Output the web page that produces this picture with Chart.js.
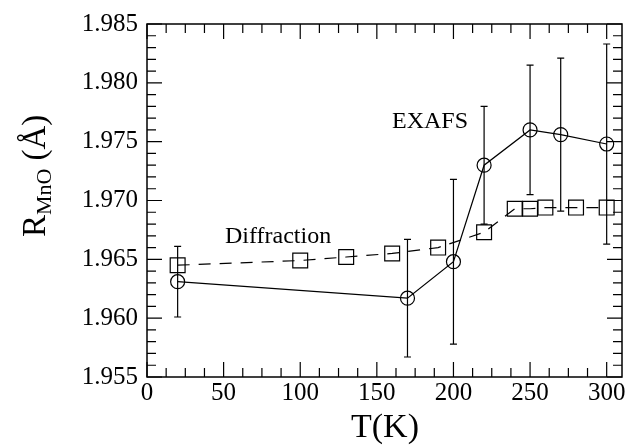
<!DOCTYPE html>
<html>
<head>
<meta charset="utf-8">
<script src="https://cdn.jsdelivr.net/npm/chart.js@4/dist/chart.umd.min.js"></script>
<style>
  html, body { margin: 0; padding: 0; background: #fff; }
  canvas { display: block; }
</style>
</head>
<body>
<canvas id="graph" width="640" height="445"></canvas>
<script>
// EXAFS data (circles, solid line, error bars)
var exafsT = [20, 170, 200, 220, 250, 270, 300];
var exafsR = [1.9631, 1.9617, 1.9648, 1.9730, 1.9760, 1.9756, 1.9748];
var exafsErr = [0.0030, 0.0050, 0.0070, 0.0050, 0.0055, 0.0065, 0.0085];
// Diffraction data (squares, dashed line)
var diffT = [20, 100, 130, 160, 190, 220, 240, 250, 260, 280, 300];
var diffR = [1.9645, 1.9649, 1.9652, 1.9655, 1.9660, 1.9673, 1.9693, 1.9693, 1.9694, 1.9694, 1.9694];
// Axis ticks
var xTicks = [0, 50, 100, 150, 200, 250, 300];
var yTicks = [1.955, 1.960, 1.965, 1.970, 1.975, 1.980, 1.985];

var serif = '"Liberation Serif", "DejaVu Serif", serif';

function toPoints(xs, ys) {
    var pts = [];
    xs.forEach(function (x, i) {
        pts.push({ x: x, y: ys[i] });
    });
    return pts;
}

// Frame, inward ticks on all sides, error bars and labels
var decor = {
    id: 'decor',
    beforeDatasetsDraw: function (chart) {
        var ctx = chart.ctx;
        var a = chart.chartArea;
        var xs = chart.scales.x;
        var ys = chart.scales.y;
        ctx.save();
        ctx.strokeStyle = '#000';
        ctx.lineWidth = 1.5;
        ctx.strokeRect(a.left, a.top, a.right - a.left, a.bottom - a.top);
        ctx.lineWidth = 1.2;
        ctx.beginPath();
        // x ticks every 12.5, major every 50
        for (var t = 0; t <= 310; t += 12.5) {
            var px = xs.getPixelForValue(t);
            if (px > a.right) break;
            var len = (t % 50 === 0) ? 15 : 9;
            ctx.moveTo(px, a.bottom); ctx.lineTo(px, a.bottom - len);
            ctx.moveTo(px, a.top); ctx.lineTo(px, a.top + len);
        }
        // y ticks every 0.001, major every 0.005
        for (var k = 0; k <= 30; k++) {
            var py = ys.getPixelForValue(1.955 + k * 0.001);
            var l2 = (k % 5 === 0) ? 15 : 9;
            ctx.moveTo(a.left, py); ctx.lineTo(a.left + l2, py);
            ctx.moveTo(a.right, py); ctx.lineTo(a.right - l2, py);
        }
        ctx.stroke();
        ctx.restore();
    },
    afterDatasetsDraw: function (chart) {
        var ctx = chart.ctx;
        var xs = chart.scales.x;
        var ys = chart.scales.y;
        ctx.save();
        ctx.strokeStyle = '#000';
        ctx.lineWidth = 1.2;
        ctx.beginPath();
        exafsT.forEach(function (t, i) {
            var px = xs.getPixelForValue(t);
            var top = ys.getPixelForValue(exafsR[i] + exafsErr[i]);
            var bot = ys.getPixelForValue(exafsR[i] - exafsErr[i]);
            ctx.moveTo(px, top); ctx.lineTo(px, bot);
            ctx.moveTo(px - 3.5, top); ctx.lineTo(px + 3.5, top);
            ctx.moveTo(px - 3.5, bot); ctx.lineTo(px + 3.5, bot);
        });
        ctx.stroke();

        ctx.fillStyle = '#000';
        ctx.textBaseline = 'alphabetic';
        ctx.textAlign = 'left';
        ctx.font = '24px ' + serif;
        ctx.fillText('EXAFS', 392, 128);
        ctx.fillText('Diffraction', 225, 243);

        // x title
        ctx.textAlign = 'center';
        ctx.font = '34px ' + serif;
        ctx.fillText('T(K)', 385, 437);

        // y title with subscript
        ctx.translate(45, 237);
        ctx.rotate(-Math.PI / 2);
        ctx.textAlign = 'left';
        ctx.font = '33px ' + serif;
        ctx.fillText('R', 0, 0);
        var w = ctx.measureText('R').width;
        ctx.font = '22px ' + serif;
        ctx.fillText('MnO', w, 6);
        w += ctx.measureText('MnO').width + 8;
        ctx.font = '33px ' + serif;
        ctx.fillText('(\u00C5)', w, 0);
        ctx.restore();
    }
};

var config = {
    type: 'scatter',
    data: {
        datasets: [
            {
                label: 'EXAFS',
                data: toPoints(exafsT, exafsR),
                showLine: true,
                borderColor: '#000',
                borderWidth: 1.2,
                backgroundColor: 'rgba(0,0,0,0)',
                pointStyle: 'circle',
                pointRadius: 7,
                pointBorderWidth: 1.2,
                pointBorderColor: '#000',
            },
            {
                label: 'Diffraction',
                data: toPoints(diffT, diffR),
                showLine: true,
                borderColor: '#000',
                borderWidth: 1.2,
                borderDash: [12, 9],
                backgroundColor: 'rgba(0,0,0,0)',
                pointStyle: 'rect',
                pointRadius: 10.5,
                pointBorderWidth: 1.2,
                pointBorderColor: '#000',
            },
        ],
    },
    options: {
        responsive: false,
        animation: false,
        layout: { padding: { left: 0, right: 18, top: 13, bottom: 0 } },
        plugins: {
            legend: { display: false },
            tooltip: { enabled: false },
        },
        scales: {
            x: {
                type: 'linear',
                min: 0,
                max: 310,
                afterFit: function (s) { s.height = 68; },
                afterBuildTicks: function (s) {
                    s.ticks = xTicks.map(function (v) { return { value: v }; });
                },
                grid: { display: false, drawTicks: false },
                border: { display: false },
                ticks: {
                    color: '#000',
                    padding: 1,
                    maxRotation: 0,
                    font: { family: serif, size: 25 },
                },
            },
            y: {
                type: 'linear',
                min: 1.955,
                max: 1.985,
                afterFit: function (s) { s.width = 147; },
                afterBuildTicks: function (s) {
                    s.ticks = yTicks.map(function (v) { return { value: v }; });
                },
                grid: { display: false, drawTicks: false },
                border: { display: false },
                ticks: {
                    color: '#000',
                    padding: 9,
                    font: { family: serif, size: 25 },
                    callback: function (v) { return Number(v).toFixed(3); },
                },
            },
        },
    },
    plugins: [decor],
};

new Chart(document.getElementById('graph'), config);
</script>
</body>
</html>
